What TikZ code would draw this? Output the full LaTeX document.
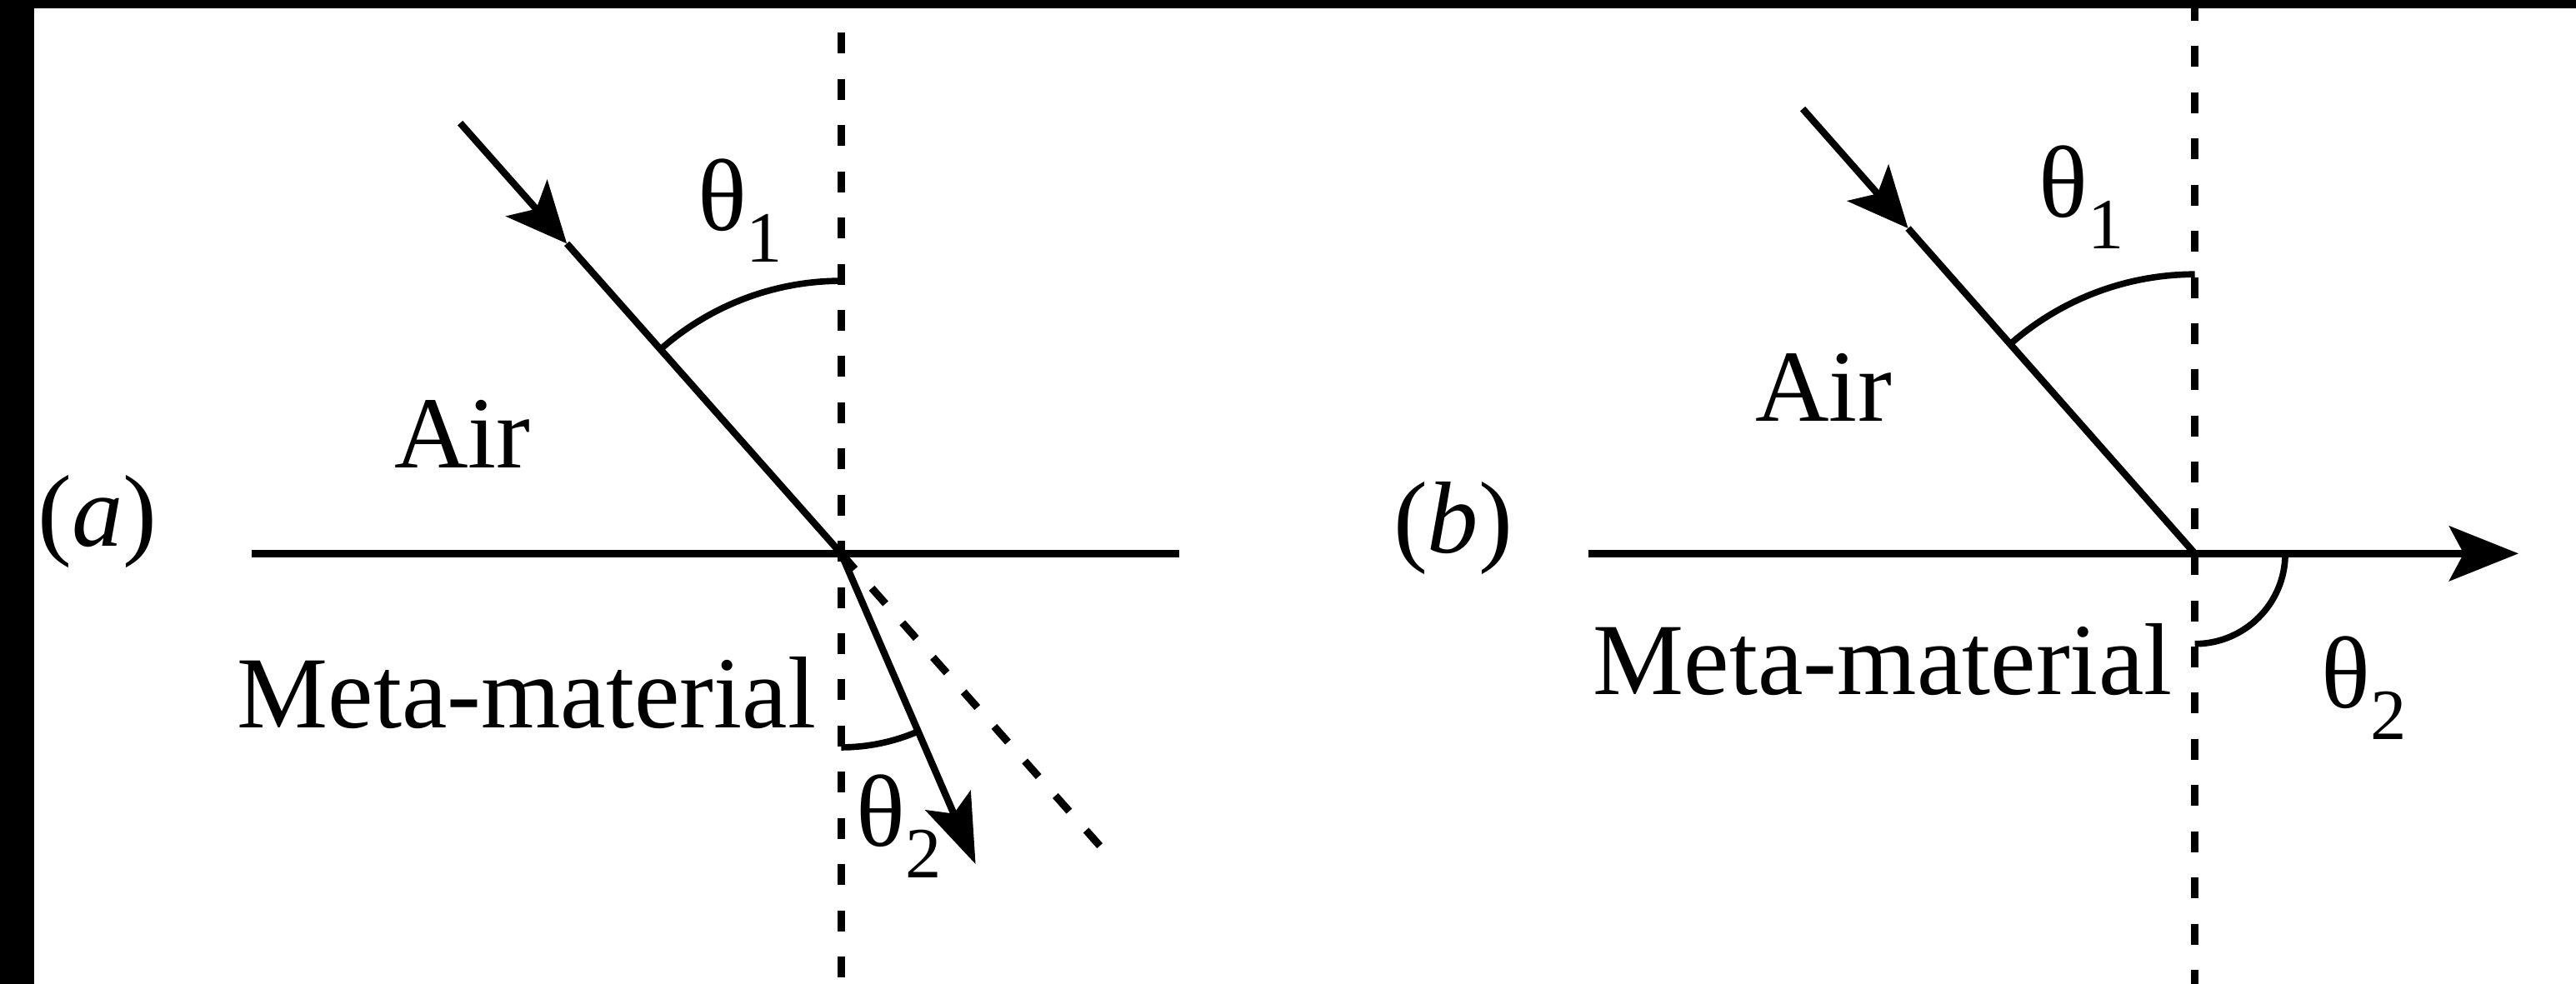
\documentclass[tikz,border=0pt]{standalone}
\usepackage{fontspec}
\setmainfont{Liberation Serif}
\usetikzlibrary{arrows.meta,calc}
\newcommand{\thsub}[1]{θ\raisebox{-5.5pt}{\fontsize{12.5}{14}\selectfont #1}}
\tikzset{
  boundary/.style={line width=1.2pt},
  normalline/.style={line width=1.3pt, dash pattern=on 3.6pt off 4.4pt},
  inray/.style={line width=1.2pt, -{Stealth[length=10.5pt, width=9.5pt, inset=2.5pt]}},
  outray/.style={line width=1.2pt, -{Stealth[length=12pt, width=8.5pt, inset=2.5pt]}},
  anglearc/.style={line width=1.1pt},
  textlabel/.style={font=\fontsize{17.7}{20}\selectfont, inner sep=0pt},
  framebar/.style={fill=black},
}

\begin{document}
\begin{tikzpicture}
  \useasboundingbox (0,0) rectangle (15.68,5.99);
  % panel (a)
  \coordinate (Oa) at (5.12,2.62);
  \coordinate (Sa) at ($(Oa)+(131.5:3.5)$);
  \coordinate (Ma) at ($(Oa)+(131.5:2.52)$);
  \coordinate (Ta) at ($(Oa)+(-66.6:2.06)$);
  \coordinate (Ea) at ($(Oa)+(-48.5:2.42)$);
  \coordinate (La) at (1.53,2.62);
  \coordinate (Ra) at (7.18,2.62);
  \coordinate (Na1) at (5.12,5.79);
  \coordinate (Na2) at (5.12,0);
  \draw[normalline] (Na1) -- (Na2);
  \draw[boundary] (La) -- (Ra);
  \draw[inray] (Sa) -- (Ma);
  \draw[boundary] (Ma) -- (Oa);
  \draw[outray] (Oa) -- (Ta);
  \draw[normalline] (Oa) -- (Ea);
  \draw[anglearc] ($(Oa)+(90:1.66)$) arc[start angle=90, end angle=131.5, radius=1.66];
  \draw[anglearc] ($(Oa)+(-90:1.18)$) arc[start angle=-90, end angle=-66.6, radius=1.18];
  \node[textlabel] (tha1) at (4.505,4.71) {\thsub{1}};
  \node[textlabel] (tha2) at (5.47,0.96) {\thsub{2}};
  \node[textlabel] (aira) at (2.815,3.35) {Air};
  \node[textlabel] (meta) at (3.205,1.77) {Meta-material};
  \node[textlabel] (laba) at (0.595,2.815) {(\textit{a})};

  % panel (b)
  \coordinate (Ob) at (13.36,2.62);
  \coordinate (Sb) at ($(Ob)+(131.4:3.61)$);
  \coordinate (Mb) at ($(Ob)+(131.4:2.64)$);
  \coordinate (Lb) at (9.67,2.62);
  \coordinate (Rb) at (15.33,2.62);
  \coordinate (Nb1) at (13.36,5.99);
  \coordinate (Nb2) at (13.36,0);
  \draw[normalline] (Nb1) -- (Nb2);
  \draw[boundary, -{Stealth[length=12pt, width=9.5pt, inset=2.5pt]}] (Lb) -- (Rb);
  \draw[inray] (Sb) -- (Mb);
  \draw[boundary] (Mb) -- (Ob);
  \draw[anglearc] ($(Ob)+(90:1.7)$) arc[start angle=90, end angle=131.4, radius=1.7];
  \draw[anglearc] ($(Ob)+(0:0.55)$) arc[start angle=0, end angle=-90, radius=0.55];
  \node[textlabel] (thb1) at (12.67,4.79) {\thsub{1}};
  \node[textlabel] (thb2) at (14.39,1.80) {\thsub{2}};
  \node[textlabel] (airb) at (11.10,3.63) {Air};
  \node[textlabel] (metb) at (11.46,1.975) {Meta-material};
  \node[textlabel] (labb) at (8.845,2.775) {(\textit{b})};

  % frame edges
  \fill[framebar] (0,5.94) rectangle (15.68,5.99);
  \fill[framebar] (0,0) rectangle (0.21,5.99);
\end{tikzpicture}
\end{document}
